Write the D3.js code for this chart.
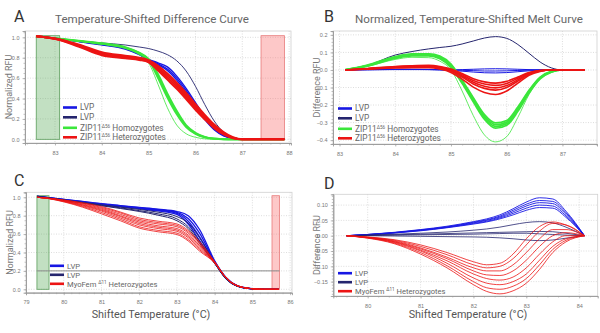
<!DOCTYPE html>
<html>
<head>
<meta charset="utf-8">
<script src="https://cdn.jsdelivr.net/npm/d3@7"></script>
<style>
  body { margin: 0; background: #fff; }
  svg { font-family: Roboto, "Open Sans", sans-serif; }
</style>
</head>
<body>
<svg id="fig" width="600" height="333"></svg>
<script>
// ---- data ----
// Panel A: normalized RFU vs shifted temperature
const tempsA = [82.6, 83.1, 83.5, 84.0, 84.5, 84.8, 85.0, 85.2, 85.4, 85.6, 85.8, 86.0, 86.2, 86.4, 86.6, 86.8, 87.0, 87.9];
const navyA = [
  [1.01, 0.985, 0.965, 0.945, 0.925, 0.905, 0.89, 0.865, 0.83, 0.77, 0.67, 0.52, 0.34, 0.18, 0.07, 0.02, 0.0, 0.0]
];
const blueA = [
  [1.01, 0.985, 0.962, 0.935, 0.895, 0.84, 0.785, 0.75, 0.71, 0.62, 0.50, 0.36, 0.22, 0.11, 0.045, 0.01, 0.0, 0.0],
  [1.01, 0.985, 0.960, 0.930, 0.890, 0.835, 0.78, 0.74, 0.69, 0.60, 0.48, 0.34, 0.21, 0.10, 0.04, 0.01, 0.0, 0.0],
  [1.01, 0.984, 0.958, 0.926, 0.885, 0.83, 0.775, 0.73, 0.675, 0.58, 0.46, 0.32, 0.195, 0.095, 0.035, 0.008, 0.0, 0.0]
];
const greenA = [
  [1.01, 0.986, 0.967, 0.942, 0.905, 0.85, 0.79, 0.64, 0.45, 0.28, 0.14, 0.065, 0.025, 0.008, 0.002, 0, 0, 0],
  [1.01, 0.985, 0.965, 0.938, 0.90, 0.845, 0.78, 0.62, 0.43, 0.26, 0.13, 0.058, 0.022, 0.006, 0.001, 0, 0, 0],
  [1.01, 0.984, 0.963, 0.935, 0.895, 0.84, 0.775, 0.60, 0.41, 0.245, 0.12, 0.052, 0.018, 0.005, 0.001, 0, 0, 0],
  [1.01, 0.985, 0.965, 0.94, 0.90, 0.83, 0.75, 0.54, 0.31, 0.14, 0.055, 0.02, 0.005, 0, 0, 0, 0, 0]
];
const redA = [
  [1.01, 0.98, 0.93, 0.855, 0.82, 0.80, 0.775, 0.72, 0.645, 0.555, 0.455, 0.345, 0.24, 0.145, 0.07, 0.02, 0.0, 0.0],
  [1.01, 0.978, 0.925, 0.845, 0.812, 0.792, 0.768, 0.705, 0.625, 0.535, 0.435, 0.325, 0.225, 0.132, 0.062, 0.016, 0.0, 0.0],
  [1.01, 0.976, 0.918, 0.835, 0.803, 0.785, 0.762, 0.69, 0.605, 0.515, 0.415, 0.305, 0.21, 0.12, 0.055, 0.013, 0.0, 0.0],
  [1.01, 0.974, 0.91, 0.825, 0.795, 0.778, 0.755, 0.675, 0.585, 0.495, 0.395, 0.29, 0.195, 0.11, 0.048, 0.01, 0.0, 0.0]
];

// Panel B: difference RFU
const tempsB = [83.1, 83.5, 84.0, 84.3, 84.6, 84.8, 85.0, 85.2, 85.4, 85.6, 85.8, 86.0, 86.2, 86.4, 86.6, 86.8, 87.0, 87.4];
const navyB = [
  [0, 0.025, 0.085, 0.105, 0.12, 0.128, 0.135, 0.148, 0.165, 0.182, 0.19, 0.18, 0.145, 0.095, 0.045, 0.012, 0, 0]
];
const blueB = [
  [0, 0.002, 0.004, 0.004, 0.003, 0.002, 0.0, -0.002, -0.004, -0.006, -0.006, -0.005, -0.003, -0.001, 0, 0, 0, 0],
  [0, 0.001, 0.002, 0.002, 0.002, 0.001, 0.0, 0.002, 0.004, 0.006, 0.007, 0.006, 0.004, 0.002, 0.001, 0, 0, 0],
  [0, 0.001, 0.003, 0.003, 0.002, 0.0, -0.003, -0.007, -0.012, -0.016, -0.017, -0.015, -0.01, -0.005, -0.001, 0, 0, 0]
];
const greenB = [
  [0, 0.027, 0.076, 0.091, 0.092, 0.079, 0.033, -0.058, -0.158, -0.254, -0.302, -0.288, -0.212, -0.116, -0.041, -0.008, 0, 0],
  [0, 0.025, 0.072, 0.087, 0.088, 0.074, 0.027, -0.064, -0.166, -0.263, -0.312, -0.297, -0.22, -0.121, -0.044, -0.009, 0, 0],
  [0, 0.024, 0.069, 0.084, 0.084, 0.069, 0.021, -0.07, -0.174, -0.272, -0.322, -0.306, -0.228, -0.126, -0.047, -0.011, 0, 0],
  [0, 0.022, 0.066, 0.08, 0.08, 0.064, 0.015, -0.076, -0.182, -0.281, -0.332, -0.315, -0.236, -0.131, -0.05, -0.012, 0, 0],
  [0, 0.02, 0.06, 0.072, 0.07, 0.05, 0.0, -0.12, -0.26, -0.37, -0.41, -0.38, -0.27, -0.14, -0.05, -0.01, 0, 0]
];
const redB = [
  [0, 0.008, 0.02, 0.024, 0.026, 0.02, 0.006, -0.02, -0.05, -0.068, -0.075, -0.065, -0.04, -0.015, -0.003, 0, 0, 0],
  [0, 0.007, 0.018, 0.022, 0.023, 0.016, 0.001, -0.027, -0.06, -0.08, -0.088, -0.077, -0.047, -0.018, -0.004, 0, 0, 0],
  [0, 0.007, 0.016, 0.02, 0.021, 0.013, -0.003, -0.034, -0.07, -0.093, -0.102, -0.089, -0.055, -0.022, -0.005, 0, 0, 0],
  [0, 0.006, 0.014, 0.017, 0.018, 0.01, -0.008, -0.04, -0.08, -0.105, -0.115, -0.1, -0.063, -0.025, -0.006, 0, 0, 0],
  [0, 0.005, 0.011, 0.013, 0.013, 0.005, -0.014, -0.052, -0.098, -0.128, -0.14, -0.12, -0.075, -0.03, -0.008, 0, 0, 0]
];

// Panel C: normalized RFU
const tempsC = [79.3, 79.6, 80.0, 80.5, 81.0, 81.5, 82.0, 82.5, 83.0, 83.3, 83.6, 84.0, 84.3, 84.6, 85.0, 85.3, 85.7];
const blueC = [
  [1.01, 0.995, 0.978, 0.955, 0.93, 0.91, 0.89, 0.87, 0.845, 0.80, 0.65, 0.31, 0.13, 0.04, 0.006, 0, 0],
  [1.01, 0.995, 0.976, 0.952, 0.927, 0.906, 0.886, 0.865, 0.835, 0.77, 0.61, 0.30, 0.125, 0.038, 0.005, 0, 0],
  [1.01, 0.994, 0.974, 0.949, 0.923, 0.902, 0.881, 0.858, 0.825, 0.74, 0.57, 0.295, 0.12, 0.036, 0.005, 0, 0],
  [1.01, 0.994, 0.972, 0.946, 0.92, 0.898, 0.876, 0.852, 0.815, 0.71, 0.53, 0.29, 0.118, 0.035, 0.005, 0, 0]
];
const navyC = [
  [1.01, 0.994, 0.972, 0.945, 0.918, 0.893, 0.868, 0.838, 0.79, 0.72, 0.56, 0.29, 0.12, 0.035, 0.005, 0, 0],
  [1.01, 0.993, 0.97, 0.941, 0.912, 0.885, 0.855, 0.82, 0.765, 0.68, 0.52, 0.285, 0.115, 0.034, 0.005, 0, 0],
  [1.01, 0.993, 0.968, 0.938, 0.908, 0.878, 0.846, 0.805, 0.745, 0.66, 0.50, 0.28, 0.112, 0.033, 0.005, 0, 0]
];
const redC = [
  [1.0, 0.99, 0.97, 0.94, 0.90, 0.84, 0.775, 0.74, 0.71, 0.64, 0.52, 0.30, 0.13, 0.04, 0.006, 0, 0],
  [1.0, 0.99, 0.968, 0.935, 0.89, 0.83, 0.76, 0.725, 0.695, 0.625, 0.505, 0.298, 0.128, 0.04, 0.006, 0, 0],
  [1.0, 0.989, 0.965, 0.928, 0.88, 0.815, 0.745, 0.71, 0.68, 0.61, 0.49, 0.296, 0.127, 0.039, 0.006, 0, 0],
  [1.0, 0.988, 0.962, 0.92, 0.87, 0.80, 0.73, 0.69, 0.66, 0.59, 0.475, 0.294, 0.126, 0.039, 0.006, 0, 0],
  [1.0, 0.988, 0.96, 0.915, 0.86, 0.79, 0.715, 0.675, 0.645, 0.575, 0.46, 0.292, 0.125, 0.038, 0.006, 0, 0],
  [1.0, 0.987, 0.957, 0.908, 0.85, 0.775, 0.70, 0.66, 0.63, 0.56, 0.445, 0.29, 0.124, 0.038, 0.006, 0, 0],
  [1.0, 0.986, 0.954, 0.90, 0.835, 0.76, 0.68, 0.64, 0.61, 0.54, 0.43, 0.288, 0.123, 0.037, 0.006, 0, 0],
  [1.0, 0.985, 0.95, 0.892, 0.82, 0.745, 0.665, 0.625, 0.595, 0.525, 0.415, 0.286, 0.122, 0.037, 0.006, 0, 0]
];

// Panel D: difference RFU
const tempsD = [79.6, 80.0, 80.5, 81.0, 81.5, 82.0, 82.25, 82.5, 82.75, 83.0, 83.25, 83.5, 83.75, 84.1];
const blueD = [
  [0, 0.004, 0.011, 0.02, 0.031, 0.046, 0.055, 0.068, 0.088, 0.11, 0.124, 0.12, 0.08, 0],
  [0, 0.004, 0.01, 0.019, 0.029, 0.044, 0.052, 0.064, 0.083, 0.103, 0.115, 0.112, 0.075, 0],
  [0, 0.004, 0.01, 0.018, 0.028, 0.042, 0.05, 0.061, 0.078, 0.097, 0.108, 0.105, 0.07, 0],
  [0, 0.003, 0.009, 0.017, 0.027, 0.04, 0.047, 0.058, 0.073, 0.09, 0.1, 0.097, 0.065, 0],
  [0, 0.003, 0.009, 0.016, 0.026, 0.038, 0.045, 0.055, 0.068, 0.083, 0.092, 0.09, 0.06, 0]
];
const navyD = [
  [0, 0.002, 0.005, 0.008, 0.012, 0.018, 0.022, 0.028, 0.036, 0.043, 0.046, 0.042, 0.028, 0],
  [0, 0.001, 0.002, 0.003, 0.004, 0.005, 0.006, 0.007, 0.008, 0.008, 0.006, 0.004, 0.002, 0],
  [0, 0, -0.001, -0.002, -0.003, -0.004, -0.005, -0.007, -0.01, -0.014, -0.016, -0.014, -0.008, 0],
  [0, 0.001, 0.003, 0.005, 0.007, 0.009, 0.01, 0.011, 0.012, 0.013, 0.014, 0.013, 0.008, 0]
];
const redD = [
  [0, -0.004, -0.013, -0.03, -0.055, -0.085, -0.095, -0.09, -0.06, -0.01, 0.03, 0.045, 0.035, 0],
  [0, -0.005, -0.015, -0.035, -0.062, -0.095, -0.105, -0.10, -0.075, -0.03, 0.015, 0.04, 0.035, 0],
  [0, -0.005, -0.017, -0.04, -0.07, -0.105, -0.115, -0.115, -0.095, -0.055, -0.01, 0.02, 0.02, 0],
  [0, -0.006, -0.019, -0.043, -0.075, -0.115, -0.128, -0.13, -0.115, -0.08, -0.035, 0.0, 0.01, 0],
  [0, -0.006, -0.02, -0.047, -0.082, -0.125, -0.14, -0.145, -0.135, -0.105, -0.06, -0.02, 0.0, 0],
  [0, -0.007, -0.022, -0.05, -0.09, -0.138, -0.155, -0.16, -0.15, -0.125, -0.08, -0.035, -0.01, 0],
  [0, -0.007, -0.024, -0.055, -0.098, -0.15, -0.17, -0.175, -0.165, -0.14, -0.095, -0.045, -0.015, 0],
  [0, -0.008, -0.026, -0.06, -0.105, -0.16, -0.182, -0.19, -0.18, -0.155, -0.11, -0.055, -0.02, 0]
];

// tick values
const ticksXA = [83, 84, 85, 86, 87, 88];
const ticksXB = [83, 84, 85, 86, 87];
const ticksXC = [79, 80, 81, 82, 83, 84, 85, 86];
const ticksXD = [80, 81, 82, 83, 84];
const ticksYnorm = [0, 0.2, 0.4, 0.6, 0.8, 1.0];
const ticksYB = [-0.4, -0.3, -0.2, -0.1, 0, 0.1, 0.2];
const ticksYD = [-0.15, -0.1, -0.05, 0, 0.05, 0.1];

// shaded normalization windows [from, to] in °C
const windowsA = { low: [82.6, 83.1], high: [87.4, 87.9] };
const windowsC = { low: [79.29, 79.61], high: [85.52, 85.72] };
const thresholdC = 0.2;

const COL = { blue: "#1717e3", navy: "#25256e", green: "#3be63b", red: "#ec1414" };

const svg = d3.select("#fig");

function drawPanel(cfg) {
  const g = svg.append("g");
  const x = d3.scaleLinear().domain(cfg.xd).range([cfg.left, cfg.right]);
  const y = d3.scaleLinear().domain(cfg.yd).range([cfg.bottom, cfg.top]);

  // dotted grid
  g.append("g").selectAll("line").data(cfg.xt.filter(v => x(v) < cfg.right - 1)).join("line")
    .attr("x1", d => x(d)).attr("x2", d => x(d))
    .attr("y1", cfg.top).attr("y2", cfg.bottom)
    .attr("stroke", "#cfcfcf").attr("stroke-width", 0.7).attr("stroke-dasharray", "1,1.5");
  g.append("g").selectAll("line").data(cfg.yt).join("line")
    .attr("x1", cfg.left).attr("x2", cfg.right)
    .attr("y1", d => y(d)).attr("y2", d => y(d))
    .attr("stroke", "#cfcfcf").attr("stroke-width", 0.7).attr("stroke-dasharray", "1,1.5");

  // frame
  g.append("rect")
    .attr("x", cfg.left).attr("y", cfg.top)
    .attr("width", cfg.right - cfg.left).attr("height", cfg.bottom - cfg.top)
    .attr("fill", "none").attr("stroke", "#d0d0d0").attr("stroke-width", 0.8);

  // normalization windows
  if (cfg.windows) {
    const w = cfg.windows;
    [[w.low, "rgba(80,165,80,0.35)", "#5c9e5c"], [w.high, "rgba(250,110,110,0.38)", "#e87b7b"]]
      .forEach(([r, fill, stroke]) => {
        g.append("rect")
          .attr("x", x(r[0])).attr("width", x(r[1]) - x(r[0]))
          .attr("y", y(cfg.winTop)).attr("height", y(0) - y(cfg.winTop))
          .attr("fill", fill).attr("stroke", stroke).attr("stroke-width", 0.8);
      });
  }
  if (cfg.threshold !== undefined) {
    g.append("line")
      .attr("x1", x(cfg.windows.low[0])).attr("x2", x(cfg.windows.high[1]))
      .attr("y1", y(cfg.threshold)).attr("y2", y(cfg.threshold))
      .attr("stroke", "#8a8a8a").attr("stroke-width", 1);
  }

  // axes
  const ax = g.append("g").attr("transform", `translate(0,${cfg.bottom})`)
    .call(d3.axisBottom(x).tickValues(cfg.xt).tickSize(2.5).tickFormat(d3.format("d")));
  const ay = g.append("g").attr("transform", `translate(${cfg.left},0)`)
    .call(d3.axisLeft(y).tickValues(cfg.yt).tickSize(2.5).tickFormat(cfg.fmt));
  g.append("g").attr("transform", `translate(${cfg.left},0)`)
    .call(d3.axisLeft(y).ticks(cfg.minorY).tickSize(1.5).tickFormat(""));
  g.append("g").attr("transform", `translate(0,${cfg.bottom})`)
    .call(d3.axisBottom(x).ticks(cfg.minorX).tickSize(1.5).tickFormat(""));
  g.selectAll(".domain").attr("stroke", "#9a9a9a").attr("stroke-width", 0.8);
  g.selectAll(".tick line").attr("stroke", "#9a9a9a").attr("stroke-width", 0.6);
  [ax, ay].forEach(a => a.selectAll("text").attr("fill", "#777").style("font-size", "5.5px"));
  ax.selectAll("text").attr("dy", "1.1em");

  // curves
  const clipId = "clip" + cfg.id;
  g.append("clipPath").attr("id", clipId).append("rect")
    .attr("x", cfg.left).attr("y", cfg.top - 2)
    .attr("width", cfg.right - cfg.left).attr("height", cfg.bottom - cfg.top + 2);
  const cg = g.append("g").attr("clip-path", `url(#${clipId})`);
  const line = d3.line()
    .x((d, i) => x(cfg.temps[i]))
    .y(d => y(d))
    .curve(d3.curveMonotoneX);
  cfg.groups.forEach(grp => {
    cg.append("g").selectAll("path").data(grp.curves).join("path")
      .attr("d", line)
      .attr("fill", "none")
      .attr("stroke", grp.color)
      .attr("stroke-width", (d, i) => (grp.thin && grp.thin.includes(i)) ? 0.8 : grp.width);
  });

  // legend
  const lg = g.append("g");
  cfg.legend.forEach(item => {
    lg.append("line")
      .attr("x1", cfg.legX).attr("x2", cfg.legX + 14)
      .attr("y1", item.y).attr("y2", item.y)
      .attr("stroke", item.color).attr("stroke-width", 2.6);
    const t = lg.append("text")
      .attr("x", cfg.legX + 17).attr("y", item.y + 2.8)
      .attr("fill", "#666").style("font-size", cfg.legFont + "px");
    t.append("tspan").text(item.parts[0]);
    if (item.parts[1]) {
      t.append("tspan").attr("dy", -3).style("font-size", "4.6px").text(item.parts[1]);
      t.append("tspan").attr("dy", 3).text(item.parts[2]);
    }
  });

  // panel letter, title, axis titles
  g.append("text").attr("x", cfg.letterX).attr("y", cfg.letterY)
    .attr("fill", "#333").style("font-size", "16px").text(cfg.id);
  if (cfg.title) {
    g.append("text").attr("x", cfg.titleX).attr("y", 23)
      .attr("text-anchor", "middle").attr("fill", "#666").style("font-size", "11.6px")
      .text(cfg.title);
  }
  g.append("text")
    .attr("transform", `translate(${cfg.left - 13},${(cfg.top + cfg.bottom) / 2}) rotate(-90)`)
    .attr("text-anchor", "middle").attr("fill", "#777").style("font-size", "9px")
    .text(cfg.ylabel);
  if (cfg.xlabel) {
    g.append("text").attr("x", cfg.xlabelX).attr("y", 318)
      .attr("text-anchor", "middle").attr("fill", "#555").style("font-size", "10.8px")
      .text(cfg.xlabel);
  }
}

const legAB = [
  { color: COL.blue, parts: ["LVP"] },
  { color: COL.navy, parts: ["LVP"] },
  { color: COL.green, parts: ["ZIP11", "Δ56", " Homozygotes"] },
  { color: COL.red, parts: ["ZIP11", "Δ56", " Heterozygotes"] }
];
const legCD = [
  { color: COL.blue, parts: ["LVP"] },
  { color: COL.navy, parts: ["LVP"] },
  { color: COL.red, parts: ["MyoFem ", "Δ11", " Heterozygotes"] }
];

drawPanel({
  id: "A", left: 25, right: 291, top: 31, bottom: 143,
  xd: [82.36, 88.04], yd: [-0.036, 1.062], xt: ticksXA, yt: ticksYnorm,
  fmt: d3.format(".1f"), minorX: 28, minorY: 25,
  temps: tempsA, windows: windowsA, winTop: 1.016,
  groups: [
    { color: COL.navy, width: 0.9, curves: navyA },
    { color: COL.blue, width: 1.4, curves: blueA },
    { color: COL.green, width: 1.8, curves: greenA, thin: [3] },
    { color: COL.red, width: 2.0, curves: redA }
  ],
  legX: 63, legFont: 8.3, legend: legAB.map((d, i) => ({ ...d, y: [107.5, 117.3, 127.8, 137.3][i] })),
  letterX: 14, letterY: 22, titleX: 152,
  title: "Temperature-Shifted Difference Curve", ylabel: "Normalized RFU"
});

drawPanel({
  id: "B", left: 333, right: 597, top: 31, bottom: 144,
  xd: [82.883, 87.62], yd: [-0.422, 0.222], xt: ticksXB, yt: ticksYB,
  fmt: d3.format(".1f"), minorX: 25, minorY: 26,
  temps: tempsB,
  groups: [
    { color: COL.blue, width: 1, curves: blueB },
    { color: COL.navy, width: 1, curves: navyB },
    { color: COL.green, width: 1.8, curves: greenB, thin: [4] },
    { color: COL.red, width: 1.6, curves: redB }
  ],
  legX: 338, legFont: 8.3, legend: legAB.map((d, i) => ({ ...d, y: [108.5, 118.3, 128.8, 138.3][i] })),
  letterX: 324, letterY: 22, titleX: 469,
  title: "Normalized, Temperature-Shifted Melt Curve", ylabel: "Difference RFU"
});

drawPanel({
  id: "C", left: 26, right: 292, top: 192.3, bottom: 292.7,
  xd: [79, 86.05], yd: [-0.037, 1.054], xt: ticksXC, yt: ticksYnorm,
  fmt: d3.format(".1f"), minorX: 35, minorY: 25,
  temps: tempsC, windows: windowsC, winTop: 1.017, threshold: thresholdC,
  groups: [
    { color: COL.blue, width: 1.3, curves: blueC },
    { color: COL.navy, width: 1, curves: navyC },
    { color: COL.red, width: 0.8, curves: redC }
  ],
  legX: 50, legFont: 7.6, legend: legCD.map((d, i) => ({ ...d, y: [265.8, 274.8, 283.8][i] })),
  letterX: 14, letterY: 185.5, xlabelX: 151,
  ylabel: "Normalized RFU", xlabel: "Shifted Temperature (°C)"
});

drawPanel({
  id: "D", left: 333.3, right: 597.7, top: 194.3, bottom: 296,
  xd: [79.35, 84.35], yd: [-0.197, 0.1353], xt: ticksXD, yt: ticksYD,
  fmt: d3.format(".2f"), minorX: 25, minorY: 26,
  temps: tempsD,
  groups: [
    { color: COL.blue, width: 0.9, curves: blueD },
    { color: COL.navy, width: 0.8, curves: navyD },
    { color: COL.red, width: 0.8, curves: redD }
  ],
  legX: 338, legFont: 7.6, legend: legCD.map((d, i) => ({ ...d, y: [273.2, 282.2, 291.2][i] })),
  letterX: 324, letterY: 188.5, xlabelX: 468,
  ylabel: "Difference RFU", xlabel: "Shifted Temperature (°C)"
});
</script>
</body>
</html>
